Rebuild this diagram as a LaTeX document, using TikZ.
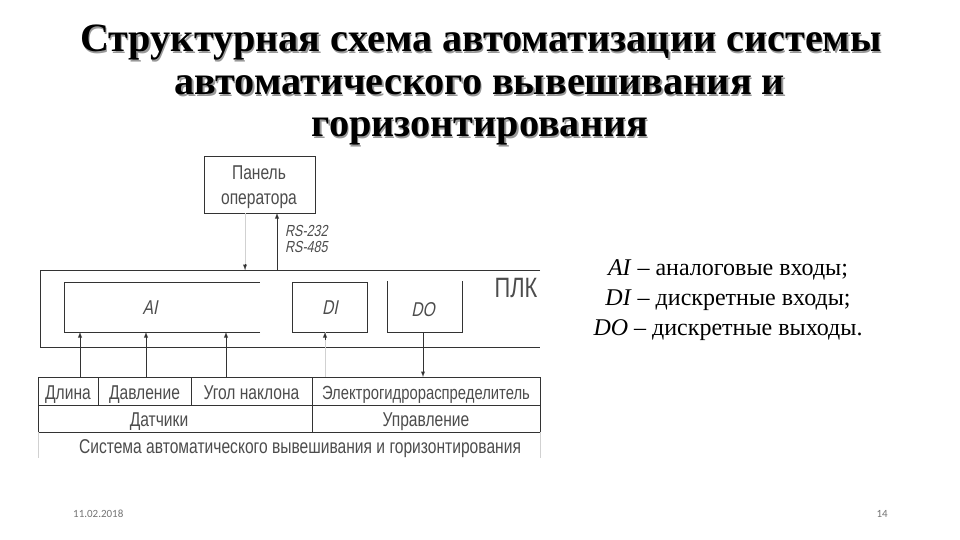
\documentclass[tikz,border=0pt]{standalone}
\usepackage{fontspec}
\setmainfont{Liberation Serif}
\newfontfamily\cadfont[FakeStretch=0.78]{Liberation Sans}
\newfontfamily\cadslant[FakeStretch=0.78,FakeSlant=0.2]{Liberation Sans}
\newfontfamily\footfont{Carlito}
\usepackage{xcolor}
\definecolor{cadline}{gray}{0.2}
\definecolor{cadfaint}{gray}{0.82}
\definecolor{cadink}{gray}{0.3}
\definecolor{titleshadow}{gray}{0.6}
\definecolor{footgray}{gray}{0.45}

\tikzset{
  cadtext/.style={text=cadink, font=\cadfont\fontsize{20}{20}\selectfont, align=center, inner sep=0pt, text height=16pt, text depth=0pt},
  slanttext/.style={text=cadink, font=\cadslant\fontsize{20}{20}\selectfont, align=center, inner sep=0pt},
  cellbox/.style={cadtext, draw=cadline, line width=0.9pt, anchor=north west, outer sep=0pt, minimum height=28},
  openbox/.style={anchor=north west, outer sep=0pt, inner sep=0pt},
  cadline/.style={draw=cadline, line width=0.9pt},
  cadarrow/.style={cadline, -latex},
  titleline/.style={font=\bfseries\fontsize{40.2}{40.2}\selectfont, anchor=base}
}

\begin{document}
\begin{tikzpicture}[x=1pt,y=-1pt]
  \useasboundingbox (0,0) rectangle (960,540);

  % title
  \node[titleline, text=titleshadow] (titleshade) at (482.2,53.2) {Структурная схема автоматизации системы};
  \node[titleline] (titleone) at (481,52) {Структурная схема автоматизации системы};
  \node[titleline, text=titleshadow] (titleshadeb) at (481.2,96.2) {автоматического вывешивания и};
  \node[titleline] (titletwo) at (480,95) {автоматического вывешивания и};
  \node[titleline, text=titleshadow] (titleshadec) at (481.2,138.2) {горизонтирования};
  \node[titleline] (titlethree) at (480,137) {горизонтирования};

  % panel and controller
  \node[draw=cadline, line width=0.9pt, anchor=north west, outer sep=0pt, inner sep=0pt,
    minimum width=111, minimum height=57] (panel) at (204,156) {};
  \node[cadtext, text height=, text depth=, font=\cadfont\fontsize{20}{25}\selectfont] (paneltext) at (259,187) {Панель\\оператора};
  \node[slanttext, anchor=west, font=\cadslant\fontsize{16}{16}\selectfont] (rs) at (285,239) {RS-232\\RS-485};
  \draw[cadline] (540,270) -- (40,270) -- (40,347) -- (540,347);
  \coordinate (plktop) at (277,270);
  \coordinate (plkdown) at (245,270);
  \node[cadtext, text height=, text depth=, font=\cadfont\fontsize{28}{28}\selectfont] (plk) at (516,288) {ПЛК};

  \node[openbox, minimum width=196, minimum height=50] (ai) at (64,282) {};
  \node[openbox, draw=cadline, line width=0.9pt, minimum width=75, minimum height=50] (di) at (292,282) {};
  \node[openbox, minimum width=75, minimum height=51] (do) at (387,281) {};
  \node[slanttext] (ailabel) at (150,308) {AI};
  \node[slanttext] (dilabel) at (330,308) {DI};
  \node[slanttext] (dolabel) at (423,310) {DO};
  \draw[cadline] (ai.south east) -- (ai.south west) -- (ai.north west) -- (ai.north east);
  \draw[cadline] (do.north west) -- (do.south west) -- (do.south east) -- (do.north east);

  % table
  \node[cellbox, minimum width=60] (dlina) at (38,377) {Длина};
  \node[cellbox, minimum width=93] (davlenie) at (98,377) {Давление};
  \node[cellbox, minimum width=121] (ugol) at (191,377) {Угол наклона};
  \node[cellbox, minimum width=228, font=\cadfont\fontsize{19}{19}\selectfont] (elektro) at (312,377) {Электрогидрораспределитель};
  \node[cellbox, minimum width=274, minimum height=27] (datchiki) at (38,405) {};
  \node[cellbox, minimum width=228, minimum height=27] (upravlenie) at (312,405) {Управление};
  \node[cadtext] (datchikilabel) at (159,418.5) {Датчики};
  \node[cadtext] (sistema) at (300,445) {Система автоматического вывешивания и горизонтирования};
  \draw[cadfaint, line width=0.9pt] (datchiki.south west) -- ++(0,26);
  \draw[cadfaint, line width=0.9pt] (upravlenie.south east) -- ++(0,26);

  % connectors
  \coordinate (inlen) at (80,332);
  \coordinate (inpress) at (146,332);
  \coordinate (inangle) at (226,332);
  \coordinate (indi) at (325,332);
  \coordinate (outdo) at (423,332);
  \draw[cadarrow] (plktop) -- (plktop |- panel.south);
  \draw[cadfaint, line width=0.9pt] (plkdown |- panel.south) -- (plkdown);
  \draw[cadarrow] (245,264) -- (plkdown);
  \draw[cadarrow] (inlen |- dlina.north) -- (inlen);
  \draw[cadarrow] (inpress |- davlenie.north) -- (inpress);
  \draw[cadarrow] (inangle |- ugol.north) -- (inangle);
  \draw[cadfaint, line width=0.9pt] (indi |- elektro.north) -- (indi);
  \draw[cadarrow] (325,340) -- (indi);
  \draw[cadarrow] (outdo) -- (outdo |- elektro.north);

  % legend
  \node[anchor=center, align=center, font=\fontsize{24}{30}\selectfont] (legend) at (728,300)
    {\textit{AI} – аналоговые входы;\\\textit{DI} – дискретные входы;\\\textit{DO} – дискретные выходы.};

  % footer
  \node[text=footgray, anchor=west, inner sep=0pt, font=\footfont\fontsize{11}{11}\selectfont] (date) at (73,514) {11.02.2018};
  \node[text=footgray, anchor=east, inner sep=0pt, font=\footfont\fontsize{11}{11}\selectfont] (page) at (888,514) {14};
\end{tikzpicture}
\end{document}
